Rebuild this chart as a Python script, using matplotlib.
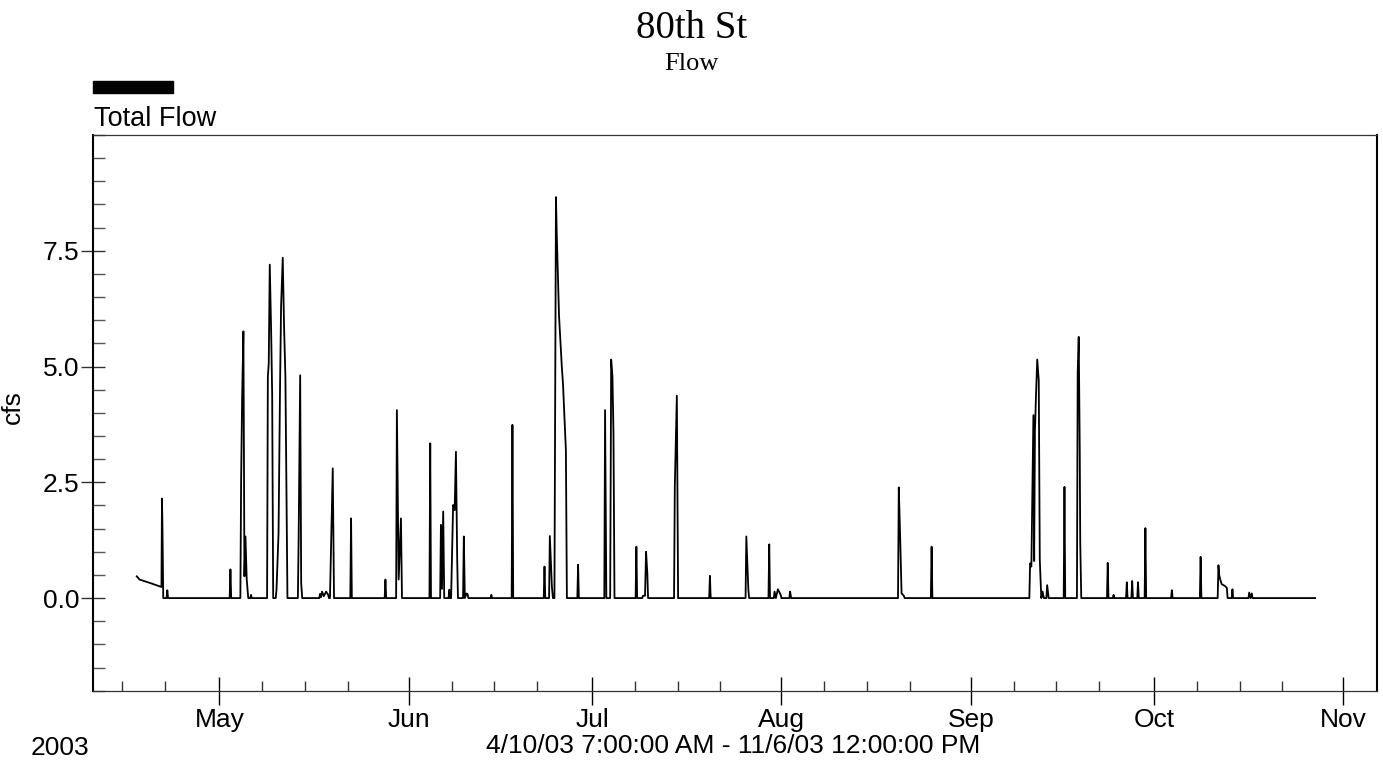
import matplotlib
matplotlib.use("Agg")
import numpy as np
import pandas as pd
import matplotlib.pyplot as plt
import matplotlib.dates as mdates
from matplotlib.patches import Rectangle
from matplotlib.ticker import FixedLocator, MultipleLocator, FixedFormatter

plt.rcParams['font.family'] = ['Liberation Sans', 'DejaVu Sans']

# Total flow (cfs), 2003, month by month
apr_times = ["04-17 11:00", "04-17 22:00", "04-19 13:00", "04-21 12:00", "04-21 14:00",
             "04-21 16:00", "04-21 19:00", "04-22 08:00", "04-22 11:00", "04-22 14:00"]
apr_flow = [0.47, 0.40, 0.33, 0.24, 2.15, 1.5, 0.0, 0.0, 0.17, 0.0]

may_times = ["05-02 16:00", "05-02 19:00", "05-02 22:00",
             "05-04 10:00", "05-04 13:00", "05-04 17:00", "05-04 22:00", "05-05 02:00",
             "05-05 06:00", "05-05 11:00", "05-05 17:00",
             "05-06 01:00", "05-06 04:00", "05-06 07:00",
             "05-08 19:00", "05-08 22:00", "05-09 01:30", "05-09 05:30", "05-09 11:00",
             "05-09 15:00", "05-09 19:00",
             "05-10 05:00", "05-10 08:00", "05-10 16:00", "05-10 22:00", "05-11 02:00",
             "05-11 08:30", "05-11 14:00", "05-11 19:00", "05-11 23:00", "05-12 03:00",
             "05-13 20:00", "05-13 23:00", "05-14 05:00", "05-14 09:00", "05-14 13:00",
             "05-17 08:00", "05-17 11:00", "05-17 15:00", "05-17 19:00", "05-18 02:00",
             "05-18 11:00", "05-18 19:00", "05-18 22:00",
             "05-19 02:00", "05-19 05:00", "05-19 13:00", "05-19 18:00",
             "05-22 10:00", "05-22 13:00", "05-22 16:00",
             "05-28 01:00", "05-28 04:00", "05-28 07:00",
             "05-29 22:00", "05-30 01:00", "05-30 08:00", "05-30 17:00", "05-30 21:00"]
may_flow = [0, 0.62, 0,
            0, 2.55, 4.35, 5.76, 0.47,
            1.33, 0.4, 0,
            0, 0.07, 0,
            0, 4.78, 5.06, 7.2, 5.75,
            4.38, 0,
            0, 0.18, 1.4, 4.6, 6.3,
            7.35, 5.8, 4.78, 2.48, 0,
            0, 1.3, 4.81, 0.32, 0,
            0, 0.09, 0.02, 0.14, 0.04,
            0.14, 0.07, 0,
            0, 0.79, 2.8, 0,
            0, 1.72, 0,
            0, 0.4, 0,
            0, 4.06, 0.4, 1.72, 0]

jun_times = ["06-04 09:00", "06-04 12:00", "06-04 15:00",
             "06-06 03:00", "06-06 06:00", "06-06 10:00", "06-06 15:00", "06-06 19:00",
             "06-07 12:00", "06-07 15:00", "06-07 18:00",
             "06-07 22:00", "06-08 01:00", "06-08 06:00", "06-08 12:00", "06-08 17:00",
             "06-08 22:00", "06-09 01:00",
             "06-09 21:00", "06-10 00:00", "06-10 04:00", "06-10 11:00", "06-10 15:00",
             "06-10 18:00",
             "06-14 09:00", "06-14 12:00", "06-14 15:00",
             "06-17 20:00", "06-17 23:00", "06-18 02:00",
             "06-23 02:00", "06-23 05:00", "06-23 08:00",
             "06-23 23:00", "06-24 02:00", "06-24 10:00", "06-24 14:00",
             "06-24 20:00", "06-25 02:00", "06-25 05:00", "06-25 08:00", "06-25 14:00",
             "06-25 21:00", "06-26 01:00", "06-26 06:00", "06-26 09:00", "06-26 14:00",
             "06-26 17:00", "06-26 21:00",
             "06-28 14:00", "06-28 17:00", "06-28 20:00"]
jun_flow = [0, 3.34, 0,
            0, 1.58, 0.2, 1.87, 0,
            0, 0.18, 0,
            0, 0.75, 2.01, 1.9, 3.16,
            0.83, 0,
            0, 1.33, 0, 0.1, 0.08,
            0,
            0, 0.07, 0,
            0, 3.74, 0,
            0, 0.68, 0,
            0, 1.34, 0.25, 0,
            0, 8.66, 7.9, 7.3, 6.1,
            5.4, 5.0, 4.6, 4.2, 3.6,
            3.2, 0,
            0, 0.72, 0]

jul_times = ["07-03 00:00", "07-03 03:00", "07-03 08:00",
             "07-03 23:00", "07-04 03:00", "07-04 08:00", "07-04 12:00", "07-04 16:00",
             "07-08 03:00", "07-08 06:00", "07-08 09:00",
             "07-09 05:00", "07-09 08:00", "07-09 16:00", "07-09 20:00", "07-10 01:00",
             "07-10 04:00",
             "07-14 10:00", "07-14 13:00", "07-14 21:00", "07-15 02:00",
             "07-20 04:00", "07-20 07:00", "07-20 10:00",
             "07-26 03:00", "07-26 06:00", "07-26 14:00", "07-26 17:00",
             "07-29 21:00", "07-30 00:00", "07-30 03:00",
             "07-30 18:00", "07-30 21:00", "07-31 02:00", "07-31 10:00", "07-31 21:00"]
jul_flow = [0, 4.06, 0,
            0, 5.15, 4.78, 3.56, 0,
            0, 1.11, 0,
            0, 0.05, 0.05, 1.0, 0.54,
            0,
            0, 2.41, 4.37, 0,
            0, 0.48, 0,
            0, 1.33, 0.18, 0,
            0, 1.16, 0,
            0, 0.14, 0, 0.19, 0.07]

aug_times = ["08-01 00:00",
             "08-02 07:00", "08-02 10:00", "08-02 14:00",
             "08-20 02:00", "08-20 05:00", "08-20 10:00", "08-20 16:00", "08-21 01:00",
             "08-21 04:00",
             "08-25 11:00", "08-25 14:00", "08-25 17:00"]
aug_flow = [0,
            0, 0.14, 0,
            0, 2.39, 1.4, 0.1, 0.05,
            0,
            0, 1.11, 0]

sep_times = ["09-10 14:00", "09-10 17:00", "09-10 22:00", "09-11 06:00", "09-11 09:00",
             "09-11 12:00", "09-11 16:00", "09-11 21:00", "09-12 03:00", "09-12 07:00",
             "09-12 13:00", "09-12 18:00", "09-12 23:00",
             "09-13 09:00", "09-13 12:00", "09-13 15:00", "09-13 18:00",
             "09-16 05:00", "09-16 08:00", "09-16 11:00",
             "09-18 09:00", "09-18 12:00", "09-18 16:00", "09-18 20:00", "09-18 22:00",
             "09-19 02:00",
             "09-23 07:00", "09-23 10:00", "09-23 13:00",
             "09-24 06:00", "09-24 09:00", "09-24 12:00",
             "09-26 10:00", "09-26 13:00", "09-26 16:00",
             "09-27 07:00", "09-27 10:00", "09-27 13:00",
             "09-28 06:00", "09-28 09:00", "09-28 12:00",
             "09-29 11:00", "09-29 14:00", "09-29 17:00"]
sep_flow = [0, 0.75, 0.68, 3.95, 0.8,
            3.6, 4.35, 5.15, 4.7, 0.83,
            0, 0.14, 0,
            0, 0.28, 0.14, 0,
            0, 2.4, 0,
            0, 4.88, 5.64, 3.24, 1.2,
            0,
            0, 0.76, 0,
            0, 0.07, 0,
            0, 0.34, 0,
            0, 0.37, 0,
            0, 0.34, 0,
            0, 1.51, 0]

oct_times = ["10-03 19:00", "10-03 22:00", "10-04 01:00",
             "10-08 12:00", "10-08 15:00", "10-08 18:00",
             "10-11 10:00", "10-11 13:00", "10-11 16:00", "10-11 20:00", "10-12 02:00",
             "10-12 15:00", "10-12 22:00", "10-13 01:00",
             "10-13 17:00", "10-13 20:00", "10-13 23:00",
             "10-16 11:00", "10-16 14:00", "10-16 19:00", "10-17 00:00", "10-17 03:00",
             "10-27 09:00"]
oct_flow = [0, 0.17, 0,
            0, 0.89, 0,
            0, 0.71, 0.5, 0.4, 0.3,
            0.26, 0.22, 0,
            0, 0.19, 0,
            0, 0.12, 0, 0.1, 0,
            0]

y_ticks = [0.0, 2.5, 5.0, 7.5]
y_tick_labels = ["0.0", "2.5", "5.0", "7.5"]

all_times = apr_times + may_times + jun_times + jul_times + aug_times + sep_times + oct_times
all_flow = apr_flow + may_flow + jun_flow + jul_flow + aug_flow + sep_flow + oct_flow
t = pd.to_datetime(["2003-" + s for s in all_times])

W, H = 1383, 761
fig = plt.figure(figsize=(W / 100, H / 100), dpi=100)
ax = fig.add_axes([93 / W, 1 - 690.7 / H, (1377 - 93) / W, (690.7 - 135) / H])

ax.plot(t, all_flow, color='black', lw=1.3)

ax.set_xlim(pd.Timestamp("2003-04-10 07:00"), pd.Timestamp("2003-11-06 12:00"))
ax.set_ylim(-2, 10)

# x axis: months + minor ticks on the 8th, 15th, 22nd
ax.xaxis.set_major_locator(mdates.MonthLocator())
ax.xaxis.set_major_formatter(mdates.DateFormatter('%b'))
ax.xaxis.set_minor_locator(mdates.DayLocator(bymonthday=[8, 15, 22]))
ax.tick_params(axis='x', which='major', direction='inout', length=20.5, width=1,
               labelsize=19, pad=2, color='black')
ax.tick_params(axis='x', which='minor', direction='in', length=7, width=1, color='#333333')

ax.yaxis.set_major_locator(FixedLocator(y_ticks))
ax.yaxis.set_major_formatter(FixedFormatter(y_tick_labels))
ax.yaxis.set_minor_locator(MultipleLocator(0.5))
ax.tick_params(axis='y', which='major', direction='inout', length=17, width=1,
               labelsize=19, pad=1.5, color='#333333')
ax.tick_params(axis='y', which='minor', direction='in', length=8.5, width=1, color='#555555')

ax.set_ylabel('cfs', fontsize=19)
ax.yaxis.set_label_coords(-0.053, 0.51)

for side in ['left', 'right']:
    ax.spines[side].set_linewidth(1.5)
    ax.spines[side].set_color('black')
for side in ['top', 'bottom']:
    ax.spines[side].set_linewidth(0.9)
    ax.spines[side].set_color('#333333')

# titles
fig.text(0.5, 1 - 38 / H, '80th St', ha='center', va='baseline', fontsize=28,
         family='Liberation Serif')
fig.text(0.5, 1 - 70 / H, 'Flow', ha='center', va='baseline', fontsize=19,
         family='Liberation Serif')

# legend swatch
fig.patches.append(Rectangle((93 / W, 1 - 92.7 / H), 80 / W, 11.7 / H,
                             transform=fig.transFigure, color='black'))
fig.text(94 / W, 1 - 126 / H, 'Total Flow', ha='left', va='baseline', fontsize=19.5)

# bottom texts
fig.text(31 / W, 1 - 755 / H, '2003', ha='left', va='baseline', fontsize=19)
fig.text(733 / W, 1 - 753 / H, '4/10/03 7:00:00 AM - 11/6/03 12:00:00 PM',
         ha='center', va='baseline', fontsize=19)

fig.savefig('out.png', dpi=100)
